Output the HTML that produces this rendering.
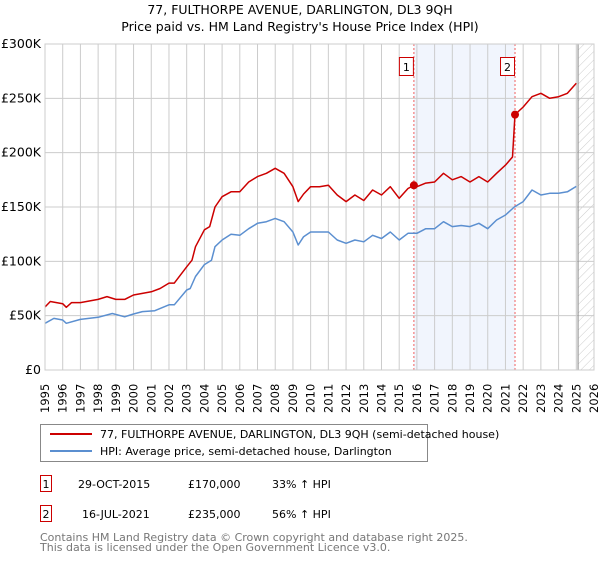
<!DOCTYPE html>
<html><head><meta charset="utf-8"><style>
body{margin:0;background:#fff;font-family:"Liberation Sans","DejaVu Sans",sans-serif;}
svg text{font-family:"DejaVu Sans","Liberation Sans",sans-serif;}
</style></head><body>
<svg id="c" width="600" height="560" xmlns="http://www.w3.org/2000/svg">
<defs><pattern id="hatch" width="6" height="6" patternUnits="userSpaceOnUse" patternTransform="rotate(45)"><line x1="0" y1="0" x2="0" y2="6" stroke="#ccc" stroke-width="1"/></pattern></defs>
<text x="300" y="14" text-anchor="middle" font-size="12.5" fill="#000">77, FULTHORPE AVENUE, DARLINGTON, DL3 9QH</text>
<text x="300" y="31" text-anchor="middle" font-size="12.5" fill="#000">Price paid vs. HM Land Registry's House Price Index (HPI)</text>
<g id="plot"></g>
<rect x="40.5" y="424.5" width="387" height="37" fill="#fff" stroke="#888"/>
<line x1="50" y1="434" x2="92" y2="434" stroke="#cc0000" stroke-width="2"/>
<text x="100" y="438" font-size="11">77, FULTHORPE AVENUE, DARLINGTON, DL3 9QH (semi-detached house)</text>
<line x1="50" y1="451" x2="92" y2="451" stroke="#5b8fd0" stroke-width="2"/>
<text x="100" y="455" font-size="11">HPI: Average price, semi-detached house, Darlington</text>
<g>
<rect x="40.5" y="475.5" width="11" height="16" fill="#fff" stroke="#cc0000"/>
<text x="46" y="488" text-anchor="middle" font-size="11">1</text>
<text x="78" y="488" font-size="11">29-OCT-2015</text>
<text x="188" y="488" font-size="11">£170,000</text>
<text x="272" y="488" font-size="11">33% ↑ HPI</text></g>
<g>
<rect x="40.5" y="505.5" width="11" height="16" fill="#fff" stroke="#cc0000"/>
<text x="46" y="518" text-anchor="middle" font-size="11">2</text>
<text x="82" y="518" font-size="11">16-JUL-2021</text>
<text x="188" y="518" font-size="11">£235,000</text>
<text x="272" y="518" font-size="11">56% ↑ HPI</text></g>
<text x="40" y="541" font-size="11" fill="#777">Contains HM Land Registry data © Crown copyright and database right 2025.</text>
<text x="40" y="551" font-size="11" fill="#777">This data is licensed under the Open Government Licence v3.0.</text>
</svg>
<script>
const hpiYears=[1995,1995.5,1996,1996.2,1997,1998,1998.8,1999.5,2000,2000.5,2001.2,2002,2002.3,2003,2003.2,2003.5,2004,2004.4,2004.6,2005,2005.5,2006,2006.5,2007,2007.5,2008,2008.5,2009,2009.3,2009.6,2010,2011,2011.5,2012,2012.5,2013,2013.5,2014,2014.5,2015,2015.5,2016,2016.5,2017,2017.5,2018,2018.5,2019,2019.5,2020,2020.5,2021,2021.5,2022,2022.5,2023,2023.5,2024,2024.5,2025];
const hpiValues=[43,47.5,46,43,46.6,48.5,52,49,51.5,53.7,54.6,60,60,73.6,75,86,97,101,113.5,119.6,125,124,130,135,136.5,139.5,136.5,127,115,122.7,127,127,119.6,116.6,119.6,118,124,121,127,119.6,125.8,125.8,130,130,136.5,132,133,132,135,130,138,142.6,150,155,165.6,161,162.6,162.6,164,169];
const ppYears=[1995,1995.3,1996,1996.2,1996.5,1997,1998,1998.5,1999,1999.5,2000,2000.5,2001,2001.5,2002,2002.3,2003,2003.3,2003.5,2004,2004.3,2004.6,2005,2005.5,2006,2006.5,2007,2007.5,2008,2008.5,2009,2009.3,2009.6,2010,2010.5,2011,2011.5,2012,2012.5,2013,2013.5,2014,2014.5,2015,2015.5,2015.83,2016,2016.5,2017,2017.5,2018,2018.5,2019,2019.5,2020,2020.5,2021,2021.4,2021.54,2022,2022.5,2023,2023.5,2024,2024.5,2025];
const ppValues=[58,63,61,57.7,62,62,65,67.5,65,65,69,70.5,72,75,80,80,95,101,113.5,129,132,150,159.5,164,164,173,178,181,185.6,181,168.7,155,162,168.7,168.7,170,161,155,161,156,165.6,161,168.7,158,167,170,168.7,172,173,181,175,178,173,178,173,181,188.6,196,235,242,251.5,254.6,250,251.5,254.6,263.8];
const saleYears=[2015.83,2021.54];
const saleValues=[170,235];
const saleLabels=["1","2"];
const yTicks=[0,50,100,150,200,250,300];
const yTickLabels=["£0","£50K","£100K","£150K","£200K","£250K","£300K"];
const xTicks=[1995,1996,1997,1998,1999,2000,2001,2002,2003,2004,2005,2006,2007,2008,2009,2010,2011,2012,2013,2014,2015,2016,2017,2018,2019,2020,2021,2022,2023,2024,2025,2026];

const X0=45,X1=594,Y0=370,Y1=44;
const x=v=>X0+(v-1995)/(2026-1995)*(X1-X0);
const y=v=>Y0-v/300*(Y0-Y1);
const NS="http://www.w3.org/2000/svg";
const g=document.getElementById('plot');
function mk(t,a){const e=document.createElementNS(NS,t);for(const k in a)e.setAttribute(k,a[k]);g.appendChild(e);return e;}
let e;
e=mk('rect',{x:x(saleYears[0]),y:Y1,width:x(saleYears[1])-x(saleYears[0]),height:Y0-Y1,fill:'#eef3fc',opacity:0.8});


e=mk('rect',{x:x(2025.1),y:Y1,width:X1-x(2025.1),height:Y0-Y1,fill:'url(#hatch)'});


yTicks.forEach((t,i)=>{
  e=mk('line',{x1:X0,x2:X1,y1:y(t),y2:y(t),stroke:'#ccc','stroke-width':1});
  
  
  e=mk('text',{x:X0-4,y:y(t)+4,'text-anchor':'end','font-size':12.5});
  e.textContent=yTickLabels[i];
  
  
});
xTicks.forEach(t=>{
  e=mk('line',{x1:x(t),x2:x(t),y1:Y1,y2:Y0,stroke:'#ccc','stroke-width':1});
  
  
  e=mk('text',{x:0,y:0,'font-size':11.5,transform:`translate(${x(t)+4},${Y0+43}) rotate(-90)`});
  e.textContent=t;
  
  
});
e=mk('line',{x1:x(2025.1),x2:x(2025.1),y1:Y1,y2:Y0,stroke:'#888','stroke-width':1});


saleYears.forEach((s,i)=>{
  e=mk('line',{x1:x(s),x2:x(s),y1:Y1,y2:Y0,stroke:'#f06060','stroke-width':1,'stroke-dasharray':'2,2'});
  
  
  e=mk('rect',{x:x(s)-14.5,y:57.5,width:14,height:18,fill:'#fff',stroke:'#cc0000'});
  
  
  e=mk('text',{x:x(s)-7.5,y:71,'text-anchor':'middle','font-size':11});
  e.textContent=saleLabels[i];
  
  
});
function path(xs,vs){return xs.map((v,i)=>(i?'L':'M')+x(v).toFixed(1)+','+y(vs[i]).toFixed(1)).join('');}
e=mk('path',{d:path(hpiYears,hpiValues),fill:'none',stroke:'#5b8fd0','stroke-width':1.5,'stroke-linejoin':'round'});


e=mk('path',{d:path(ppYears,ppValues),fill:'none',stroke:'#cc0000','stroke-width':1.5,'stroke-linejoin':'round'});


saleYears.forEach((s,i)=>{
  e=mk('circle',{cx:x(s),cy:y(saleValues[i]),r:4,fill:'#cc0000'});
  
  
});
e=mk('rect',{x:X0,y:Y1,width:X1-X0,height:Y0-Y1,fill:'none',stroke:'#ccc'});


</script>
</body></html>
